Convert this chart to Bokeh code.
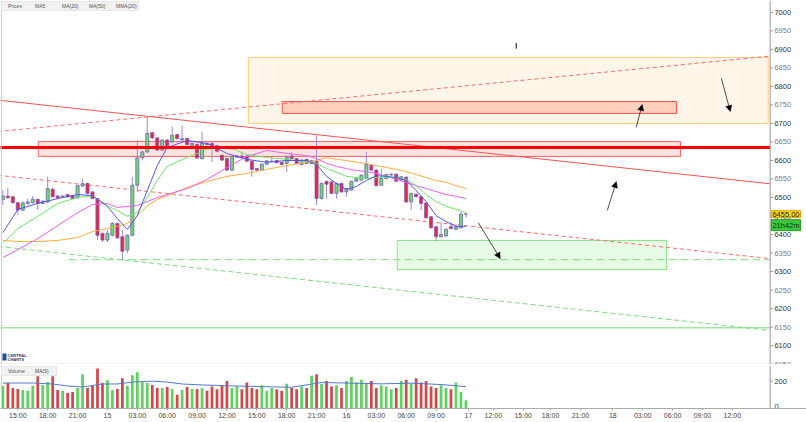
from bokeh.plotting import figure
from bokeh.layouts import column
from bokeh.models import (Range1d, FixedTicker, ColumnDataSource, BoxAnnotation,
                          Arrow, NormalHead, Label, Legend, LegendItem)
from bokeh.core.properties import value
from bokeh.embed import file_html
from bokeh.resources import INLINE

# ---------------- data (30-minute candles, index 0..93) ----------------
opens = [6495, 6504, 6502, 6486, 6466, 6484, 6486, 6495, 6484, 6488,
         6522, 6504, 6502, 6508, 6504, 6499, 6531, 6538, 6515, 6497,
         6403, 6385, 6398, 6430, 6394, 6358, 6398, 6533, 6607, 6623,
         6675, 6661, 6628, 6655, 6650, 6670, 6655, 6659, 6641, 6643,
         6605, 6646, 6646, 6640, 6614, 6605, 6574, 6609, 6612, 6612,
         6598, 6578, 6574, 6590, 6597, 6600, 6595, 6592, 6612, 6605,
         6589, 6603, 6592, 6598, 6497, 6543, 6542, 6511, 6538, 6515,
         6520, 6544, 6547, 6552, 6587, 6574, 6533, 6551, 6561, 6563,
         6547, 6555, 6488, 6509, 6502, 6485, 6448, 6421, 6394, 6396,
         6421, 6414, 6418, 6455]
highs = [6520, 6527, 6505, 6488, 6490, 6497, 6504, 6497, 6493, 6556,
         6527, 6506, 6506, 6510, 6506, 6535, 6551, 6540, 6517, 6499,
         6405, 6412, 6433, 6432, 6412, 6400, 6556, 6655, 6626, 6718,
         6678, 6663, 6658, 6658, 6691, 6672, 6695, 6662, 6649, 6646,
         6678, 6649, 6648, 6642, 6616, 6607, 6613, 6615, 6623, 6614,
         6600, 6580, 6592, 6601, 6610, 6602, 6597, 6612, 6622, 6607,
         6603, 6605, 6602, 6668, 6540, 6546, 6544, 6540, 6540, 6526,
         6546, 6553, 6562, 6623, 6589, 6576, 6578, 6564, 6565, 6565,
         6558, 6557, 6513, 6511, 6504, 6487, 6450, 6423, 6434, 6416,
         6434, 6429, 6461, 6458]
lows = [6480, 6497, 6484, 6452, 6463, 6479, 6484, 6466, 6481, 6485,
        6500, 6497, 6499, 6500, 6495, 6497, 6529, 6508, 6495, 6385,
        6380, 6380, 6395, 6388, 6331, 6350, 6395, 6515, 6600, 6620,
        6658, 6625, 6625, 6637, 6647, 6656, 6652, 6640, 6638, 6604,
        6602, 6640, 6596, 6622, 6598, 6571, 6571, 6606, 6605, 6596,
        6556, 6571, 6572, 6588, 6595, 6592, 6587, 6569, 6603, 6590,
        6587, 6590, 6590, 6479, 6495, 6497, 6509, 6497, 6513, 6502,
        6518, 6542, 6545, 6550, 6572, 6530, 6531, 6549, 6558, 6542,
        6545, 6486, 6466, 6500, 6466, 6443, 6416, 6382, 6392, 6394,
        6414, 6412, 6416, 6445]
closes = [6504, 6499, 6486, 6466, 6485, 6488, 6495, 6484, 6490, 6524,
          6502, 6499, 6504, 6502, 6497, 6532, 6537, 6511, 6497, 6398,
          6385, 6403, 6430, 6391, 6355, 6398, 6533, 6607, 6623, 6673,
          6661, 6628, 6655, 6640, 6668, 6659, 6659, 6643, 6646, 6607,
          6646, 6643, 6640, 6625, 6601, 6574, 6610, 6612, 6608, 6598,
          6576, 6574, 6590, 6599, 6598, 6594, 6589, 6610, 6605, 6592,
          6601, 6592, 6600, 6497, 6538, 6536, 6511, 6538, 6515, 6524,
          6544, 6551, 6560, 6589, 6574, 6532, 6551, 6562, 6563, 6544,
          6556, 6488, 6511, 6502, 6484, 6445, 6418, 6394, 6400, 6414,
          6416, 6421, 6455, 6455]
volumes = [164, 186, 150, 143, 136, 129, 164, 236, 171, 193,
           236, 136, 129, 114, 121, 150, 250, 150, 164, 293,
           186, 207, 136, 143, 221, 164, 243, 264, 193, 186,
           171, 150, 150, 157, 143, 100, 136, 157, 143, 143,
           150, 130, 160, 140, 170, 200, 150, 160, 140, 190,
           150, 140, 170, 130, 150, 140, 130, 180, 150, 140,
           160, 150, 240, 250, 180, 200, 160, 170, 150, 200,
           230, 190, 210, 180, 200, 150, 170, 160, 140, 150,
           200, 210, 180, 220, 190, 200, 160, 150, 170, 150,
           140, 190, 120, 60]

# moving averages read at these candle indices
ma_idx = [0, 3, 7, 11, 15, 18, 21, 23, 25, 27, 29, 31, 33, 37, 41, 45, 49, 53,
          57, 61, 63, 65, 67, 69, 71, 73, 75, 77, 79, 81, 83, 85, 87, 89, 91, 93]
ma5 = [6405, 6468, 6484, 6497, 6508, 6505, 6476, 6443, 6414, 6451, 6519, 6586,
       6635, 6654, 6646, 6619, 6603, 6595, 6600, 6600, 6589, 6557, 6538, 6522,
       6530, 6546, 6559, 6557, 6554, 6546, 6519, 6489, 6451, 6435, 6422, 6422]
mma20 = [6376, 6416, 6449, 6484, 6500, 6505, 6478, 6465, 6449, 6459, 6500, 6546,
         6584, 6608, 6630, 6638, 6616, 6608, 6603, 6597, 6592, 6578, 6568, 6557,
         6554, 6551, 6554, 6554, 6554, 6549, 6532, 6508, 6489, 6476, 6468, 6459]
ma20 = [6338, 6359, 6389, 6424, 6459, 6481, 6484, 6473, 6476, 6478, 6489, 6500,
        6508, 6524, 6549, 6581, 6611, 6627, 6619, 6613, 6605, 6592, 6584, 6578,
        6573, 6570, 6565, 6557, 6549, 6541, 6532, 6524, 6516, 6508, 6503, 6497]
ma50 = [6384, 6381, 6381, 6384, 6392, 6408, 6416, 6422, 6430, 6451, 6478, 6495,
        6505, 6527, 6543, 6557, 6565, 6576, 6586, 6595, 6600, 6608, 6603, 6600,
        6595, 6592, 6586, 6581, 6576, 6570, 6562, 6554, 6546, 6541, 6532, 6524]

vol_ma_idx = [0, 6, 10, 13, 16, 20, 23, 26, 30, 33, 36, 40, 46, 52, 58, 64, 70, 76, 82, 88, 93]
vol_ma = [186, 186, 179, 164, 157, 179, 179, 193, 200, 193, 179, 172, 165, 160, 155, 190, 185, 180, 185, 175, 160]

price_ticks = list(range(6050, 7001, 50))
vol_ticks = [0, 200]
time_ticks = [3, 9, 15, 21, 27, 33, 39, 45, 51, 57, 63, 69, 75, 81, 87, 93.5,
              98.5, 104.5, 110, 116, 122.5, 128.5, 134.5, 140.5, 146.5]
time_labels = ["15:00", "18:00", "21:00", "15", "03:00", "06:00", "09:00", "12:00",
               "15:00", "18:00", "21:00", "16", "03:00", "06:00", "09:00", "17",
               "12:00", "15:00", "18:00", "21:00", "18", "03:00", "06:00", "09:00", "12:00"]

# drawn objects (chart coordinates: candle index, price)
line_x = [-1, 154.1]
trend_solid = [6763, 6537]
trend_dash_up = [6678, 6882]
trend_dash_mid = [6560, 6335]
trend_dash_green = [6368, 6141]
level_red = [6635, 6635]
level_green = [6148, 6148]
level_dash_x = [13.2, 154.1]
level_dash = [6332, 6332]
box_red = (7.1, 136.1, 6611, 6651)
box_orange = (49.3, 153.7, 6700, 6878)
box_red_small = (56.1, 135.3, 6727, 6759)
box_green = (79.2, 133.3, 6305, 6384)
arrows = [(95.5, 6432, 99.9, 6335), (121.4, 6465, 123.2, 6543),
          (127.2, 6689, 128.4, 6751), (144.3, 6822, 146.1, 6732)]
last_price = 6455.00
countdown = "21h42m"

# ---------------- styling ----------------
FONT = "Liberation Sans"
GREEN = "#66e066"
RED = "#e8283a"
OUTLINE = "#7a5cc0"
WICK = "#9c8ad2"
AXIS_X = 154.1          # position of the price scale line (right edge of plot area)
TICK_END = 154.7
LABEL_X = 154.95

N = len(opens)
idx = list(range(N))
src = ColumnDataSource(dict(
    x=idx, h=highs, l=lows,
    top=[max(o, c) for o, c in zip(opens, closes)],
    bottom=[min(o, c) for o, c in zip(opens, closes)],
    color=[GREEN if c >= o else RED for o, c in zip(opens, closes)],
    vol=volumes,
    vcolor=["#5fd35f" if c >= o else "#cf4a4a" for o, c in zip(opens, closes)],
))

xr = Range1d(-0.48, 161.4)

p = figure(frame_width=806, frame_height=364, x_range=xr, y_range=Range1d(6049, 7032),
           y_axis_location=None, x_axis_location=None, toolbar_location=None,
           output_backend="svg", min_border_left=0, min_border_right=0,
           min_border_top=0, min_border_bottom=0)
p.grid.visible = False
p.outline_line_color = None
p.background_fill_color = "white"
p.border_fill_color = "white"

# boxes (underneath)
for (l, r, b, t), fc, fa, lc in [
        (box_orange, "#ffb84d", 0.12, "#ffcc80"),
        (box_red_small, "#ff5a3c", 0.25, "#ff5050"),
        (box_red, "#ff4040", 0.15, "#ff6060"),
        (box_green, "#55dd55", 0.15, "#88e488")]:
    p.quad(left=[l], right=[r], bottom=[b], top=[t], fill_color=fc, fill_alpha=fa,
           line_color=lc, line_width=1)

# trend lines
p.line(line_x, trend_solid, line_color="#f05555", line_width=1)
p.line(line_x, trend_dash_up, line_color="#ff6a6a", line_width=1, line_dash="4 3")
p.line(line_x, trend_dash_mid, line_color="#ff6a6a", line_width=1, line_dash="4 3")
p.line(line_x, trend_dash_green, line_color="#7ddc7d", line_width=1, line_dash="5 3")
p.line(level_dash_x, level_dash, line_color="#7ddc7d", line_width=1, line_dash="8 4")
p.line(line_x, level_green, line_color="#77d877", line_width=1)

# candles
p.segment(x0="x", y0="h", x1="x", y1="l", source=src, line_color=WICK, line_width=1)
p.vbar(x="x", width=0.62, top="top", bottom="bottom", fill_color="color",
       line_color=OUTLINE, line_width=0.8, source=src)

# moving averages
p.line(ma_idx, ma50, line_color="#ffad3c", line_width=1)
p.line(ma_idx, ma20, line_color="#f25ef2", line_width=1)
p.line(ma_idx, mma20, line_color="#6ae86a", line_width=1)
p.line(ma_idx, ma5, line_color="#5555ee", line_width=1)

p.line(line_x, level_red, line_color="#ff0000", line_width=3)

for x0, y0, x1, y1 in arrows:
    p.add_layout(Arrow(end=NormalHead(size=6, fill_color="black", line_color="black", line_width=0.5),
                       x_start=x0, y_start=y0, x_end=x1, y_end=y1,
                       line_color="#222222", line_width=0.8))
p.segment(x0=[103.1], y0=[6917], x1=[103.1], y1=[6902], line_color="black", line_width=1)

# price scale on the right (line, ticks, labels)
p.segment(x0=[AXIS_X], y0=[6049], x1=[AXIS_X], y1=[7032], line_color="#999999", line_width=1)
p.segment(x0=[AXIS_X] * len(price_ticks), y0=price_ticks, x1=[TICK_END] * len(price_ticks),
          y1=price_ticks, line_color="#999999", line_width=1)
p.text(x=[LABEL_X] * len(price_ticks), y=price_ticks, text=[str(t) for t in price_ticks],
       text_font=value(FONT), text_font_size=value("7.5px"), text_baseline="middle",
       text_align="left",
       text_color=["#333333" if t % 100 == 0 else "#808080" for t in price_ticks])
# left border and separator
p.segment(x0=[-0.3], y0=[6049], x1=[-0.3], y1=[7032], line_color="#cccccc", line_width=1)
p.segment(x0=[-1], y0=[6049.6], x1=[AXIS_X], y1=[6049.6], line_color="#cccccc", line_width=1)

# last price tags on the scale
p.text(x=[AXIS_X + 0.25], y=[last_price], text=[f"{last_price:.2f}"], text_font=value(FONT),
       text_font_size=value("7.5px"), text_color="#222222", text_baseline="middle",
       text_align="left", background_fill_color="#ffd21f", border_line_color="#e0a000",
       padding=1)
p.text(x=[AXIS_X + 0.25], y=[last_price], y_offset=11, text=[countdown], text_font=value(FONT),
       text_font_size=value("7.5px"), text_color="#113311", text_baseline="middle",
       text_align="left", background_fill_color="#3cc83c", border_line_color="#2a9a2a",
       padding=1)

# legend of price panel
dummies = []
for c in [None, "#3333ff", "#ff44ff", "#ffaa33", "#44ee44"]:
    if c is None:
        r = p.quad(left=[], right=[], top=[], bottom=[], fill_alpha=0, line_alpha=0)
    else:
        r = p.quad(left=[], right=[], top=[], bottom=[], fill_color=c, line_color="#555555", line_width=0.5)
    dummies.append(r)
leg = Legend(items=[LegendItem(label=t, renderers=[r]) for t, r in
                    zip(["Prices", "MA5", "MA(20)", "MA(50)", "MMA(20)"], dummies)],
             orientation="horizontal", location="top_left", label_text_font=FONT,
             label_text_font_size="5px", label_text_color="#555555", glyph_width=4,
             glyph_height=4, spacing=2, padding=1, margin=1, label_standoff=1,
             label_height=5, background_fill_color="#f0f0f0", border_line_color="#dddddd")
p.add_layout(leg)

# logo
p.add_layout(BoxAnnotation(left=2, right=6, bottom=4, top=11, left_units="screen",
                           right_units="screen", bottom_units="screen", top_units="screen",
                           fill_color="#1f4f9a", fill_alpha=1, line_color=None))
p.add_layout(Label(x=7, y=7, x_units="screen", y_units="screen", text="CENTRAL",
                   text_font=FONT, text_font_size="4px", text_font_style="bold",
                   text_color="#1f3f7a"))
p.add_layout(Label(x=7, y=3, x_units="screen", y_units="screen", text="CHARTS",
                   text_font=FONT, text_font_size="4px", text_font_style="bold",
                   text_color="#1f3f7a"))

# ---------------- volume panel ----------------
pv = figure(frame_width=806, frame_height=43, x_range=xr, y_range=Range1d(0, 314),
            y_axis_location=None, toolbar_location=None, output_backend="svg",
            min_border_left=0, min_border_right=0, min_border_top=1, min_border_bottom=0)
pv.grid.visible = False
pv.outline_line_color = None
pv.vbar(x="x", width=0.55, top="vol", bottom=0, fill_color="vcolor", line_color=None, source=src)
pv.line(vol_ma_idx, vol_ma, line_color="#5577cc", line_width=1)

pv.segment(x0=[AXIS_X], y0=[0], x1=[AXIS_X], y1=[314], line_color="#999999", line_width=1)
pv.segment(x0=[AXIS_X] * len(vol_ticks), y0=vol_ticks, x1=[TICK_END] * len(vol_ticks),
           y1=vol_ticks, line_color="#999999", line_width=1)
pv.text(x=[LABEL_X] * len(vol_ticks), y=vol_ticks, text=[str(t) for t in vol_ticks],
        text_font=value(FONT), text_font_size=value("7.5px"),
        text_baseline=["bottom", "middle"], text_align="left", text_color="#333333")
pv.segment(x0=[-0.3], y0=[0], x1=[-0.3], y1=[314], line_color="#cccccc", line_width=1)

xax = pv.xaxis[0]
xax.ticker = FixedTicker(ticks=time_ticks)
xax.major_label_overrides = {t: lab for t, lab in zip(time_ticks, time_labels)}
xax.major_label_text_font = FONT
xax.major_label_text_font_size = "7px"
xax.major_label_text_color = "#444444"
xax.axis_line_color = "#aaaaaa"
xax.major_tick_line_color = "#aaaaaa"
xax.major_tick_out = 2
xax.major_tick_in = 0
xax.minor_tick_line_color = None
xax.major_label_standoff = 1

vd1 = pv.quad(left=[], right=[], top=[], bottom=[], fill_color="#44cc44", line_color="#555555", line_width=0.5)
vd2 = pv.quad(left=[], right=[], top=[], bottom=[], fill_color="#4466cc", line_color="#555555", line_width=0.5)
vleg = Legend(items=[LegendItem(label="Volume", renderers=[vd1]), LegendItem(label="MA(5)", renderers=[vd2])],
              orientation="horizontal", location="top_left", label_text_font=FONT,
              label_text_font_size="5px", label_text_color="#555555", glyph_width=4,
              glyph_height=4, spacing=2, padding=1, margin=1, label_standoff=1,
              label_height=5, background_fill_color="#f0f0f0", border_line_color="#dddddd")
pv.add_layout(vleg)

layout = column(p, pv, spacing=0)
open("out.html", "w").write(file_html(layout, INLINE))
